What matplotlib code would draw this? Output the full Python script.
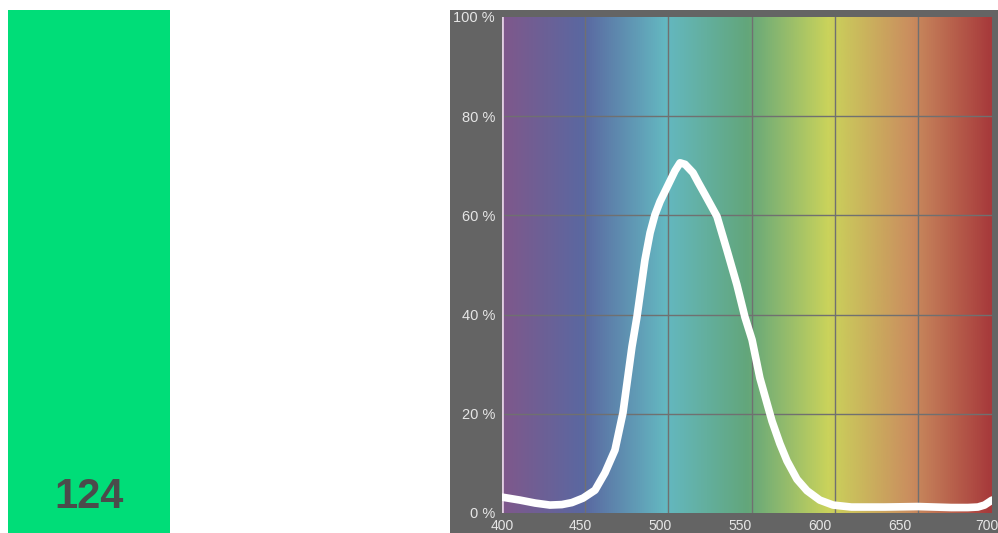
import numpy as np
import matplotlib
matplotlib.use("Agg")
import matplotlib.pyplot as plt
from matplotlib.colors import LinearSegmentedColormap

# ---- data ----
swatch_label = "124"
wavelength = [400, 410.8, 420, 428.8, 436, 442, 448.7, 455.9, 461.9, 467.9, 472.7,
              478.1, 481.1, 485.9, 489, 491.9, 495, 499.8, 504, 507, 510, 514.8, 518, 522,
              529.2, 535.2, 541.2, 546, 550.3, 555, 562.3, 567, 571.3, 577.3, 583.3, 591,
              599, 610, 630, 650, 670, 680, 686, 690, 694.5]
transmission = [3.2, 2.6, 2.0, 1.6, 1.7, 2.1, 3.0, 4.6, 8.1, 12.7, 20.2,
                33.5, 39.5, 51.0, 56.5, 60.1, 62.8, 66.1, 69.0, 70.6, 70.3, 68.6, 66.6, 64.2,
                59.8, 53.0, 46.0, 39.5, 34.9, 27.2, 18.5, 14.0, 10.5, 6.8, 4.5, 2.6,
                1.6, 1.2, 1.2, 1.3, 1.1, 1.1, 1.2, 1.6, 2.6]
x_tick_labels = ["400", "450", "500", "550", "600", "650", "700"]
y_ticks = [0, 20, 40, 60, 80, 100]
y_tick_labels = ["0 %", "20 %", "40 %", "60 %", "80 %", "100 %"]
x_grid = [450, 500, 550, 600, 650]
y_grid = [20, 40, 60, 80]
spectrum_colors = ["#7f588b", "#5a68a1", "#64b8c1", "#62a67b", "#cad35b", "#ca8e5f", "#a7393b"]

W, H = 998, 533
fig = plt.figure(figsize=(W / 100, H / 100), dpi=100)
fig.patch.set_facecolor("white")

# green swatch
sw = fig.add_axes([8 / W, 0, 162 / W, 523 / H])
sw.set_facecolor("#00dd78")
sw.set_xticks([]); sw.set_yticks([])
for s in sw.spines.values():
    s.set_visible(False)
sw.text(0.5, 0.068, swatch_label, transform=sw.transAxes, ha="center", va="center",
        fontsize=30, fontweight="bold", color="#4b4b4b", family=["Liberation Sans", "DejaVu Sans"])

# gray panel
panel = fig.add_axes([450 / W, 0, 548 / W, 523 / H])
panel.set_facecolor("#646464")
panel.set_xticks([]); panel.set_yticks([])
for s in panel.spines.values():
    s.set_visible(False)

# spectrum axes
xmin, xmax = 400, 694.5
ax = fig.add_axes([502 / W, (H - 513) / H, 490 / W, 496 / H])
ax.set_xlim(xmin, xmax)
ax.set_ylim(0, 100)
cmap = LinearSegmentedColormap.from_list("spec", spectrum_colors)
grad = np.linspace(0, 1, 512)[None, :]
ax.imshow(grad, cmap=cmap, extent=(xmin, xmax, 0, 100), aspect="auto", zorder=0)
for g in x_grid:
    ax.axvline(g, color="#707070", lw=1, zorder=1)
for g in y_grid:
    ax.axhline(g, color="#707070", lw=1, zorder=1)
ax.axvline(xmin, color="#e2cfe2", lw=2, zorder=2)

ax.plot(wavelength, transmission, color="white", lw=5.5, solid_joinstyle="round",
        solid_capstyle="round", zorder=3)

for s in ax.spines.values():
    s.set_visible(False)
ax.set_xticks(np.linspace(xmin, xmax, len(x_tick_labels)) - np.array([0, 2, 3, 4, 5, 6, 3]))
ax.set_xticklabels(x_tick_labels)
ax.set_yticks(y_ticks)
ax.set_yticklabels(y_tick_labels)
ax.tick_params(length=0, colors="#e6e6e6")
ax.tick_params(axis="y", labelsize=10.5, pad=5)
ax.tick_params(axis="x", labelsize=10, pad=4.5)
for lab in ax.get_xticklabels() + ax.get_yticklabels():
    lab.set_family(["Liberation Sans", "DejaVu Sans"])

fig.savefig("out.png", dpi=100)
